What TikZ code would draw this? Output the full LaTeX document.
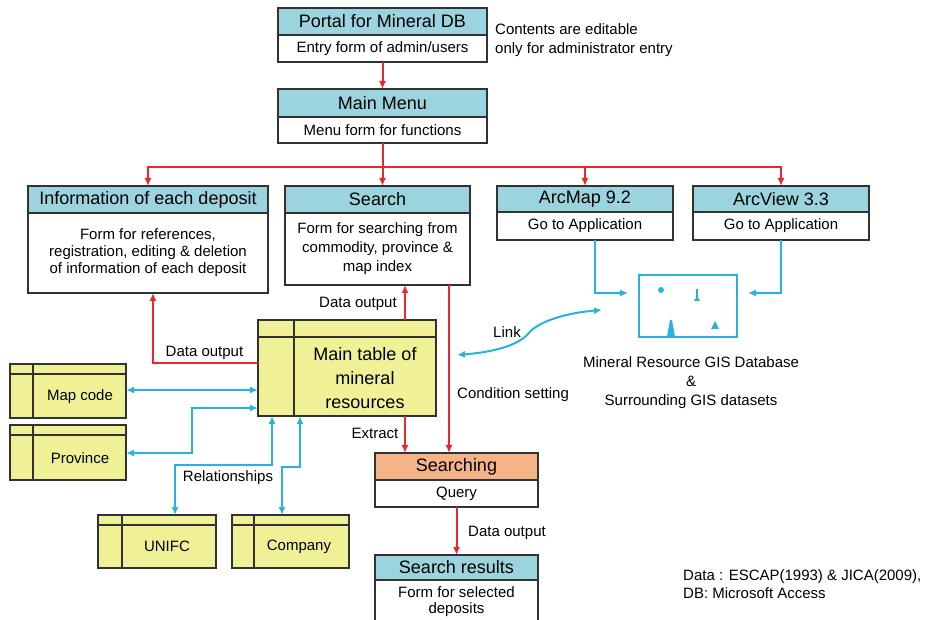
\documentclass[tikz,border=0pt]{standalone}
\usepackage{fontspec}
\setmainfont{Liberation Sans}
\usetikzlibrary{arrows.meta,fit}
\definecolor{hdrblue}{RGB}{155,212,222}
\definecolor{tabyellow}{RGB}{240,240,150}
\definecolor{salmon}{RGB}{245,180,135}
\definecolor{redc}{RGB}{232,40,45}
\definecolor{bluec}{RGB}{40,178,222}
\definecolor{boxgray}{RGB}{50,50,50}
\newcommand{\fsbig}{\fontsize{18}{22}\selectfont}
\newcommand{\fsmid}{\fontsize{15}{18}\selectfont}
\begin{document}
\begin{tikzpicture}[x=1pt,y=-1pt,
  hdr/.style n args={2}{draw=boxgray, line width=2.2pt, fill=hdrblue, minimum width=#1, minimum height=#2, inner sep=0pt, outer sep=0pt, font=\fsbig},
  hdrs/.style n args={2}{hdr={#1}{#2}, fill=salmon},
  bodybox/.style n args={2}{draw=boxgray, line width=2.2pt, fill=white, minimum width=#1, minimum height=#2, inner sep=0pt, outer sep=0pt, font=\fsmid, align=center},
  tab/.style={draw=boxgray, line width=2.2pt, fill=tabyellow, inner sep=0pt, outer sep=0pt},
  tabline/.style={draw=boxgray, line width=1.7pt},
  tabtxt/.style={font=\fsmid, inner sep=0pt},
  lbl/.style={font=\fsmid, inner sep=0pt},
  redln/.style={draw=redc, line width=2pt},
  redarr/.style={draw=redc, line width=2pt, -{Latex[length=8pt,width=7pt]}},
  bluearr/.style={draw=bluec, line width=2pt, -{Latex[length=8pt,width=7pt]}},
  bluedbl/.style={draw=bluec, line width=2pt, {Latex[length=8pt,width=7pt]}-{Latex[length=8pt,width=7pt]}}
]
\useasboundingbox (0,0) rectangle (930,620);
\fill[white] (0,0) rectangle (930,620);

% Portal
\node[bodybox={209pt}{27pt}] (portalB) at (382.5,48.5) {Entry form of admin/users};
\node[hdr={209pt}{27pt}] (portalH) at (382.5,21.5) {Portal for Mineral DB};
\node[lbl, anchor=west, align=left, font=\fontsize{15}{19}\selectfont] (note) at (495,40.5) {Contents are editable\\only for administrator entry};

% Main menu
\node[bodybox={209pt}{26pt}] (menuB) at (382.5,130) {Menu form for functions};
\node[hdr={209pt}{28pt}] (menuH) at (382.5,103) {Main Menu};

% Info
\node[bodybox={240pt}{80pt}, font=\fontsize{15}{17}\selectfont] (infoB) at (148,253) {Form for references,\\registration, editing \& deletion\\of information of each deposit};
\node[hdr={240pt}{27pt}] (infoH) at (148,199.5) {Information of each deposit};

% Search
\node[bodybox={185pt}{72pt}, font=\fontsize{15}{19}\selectfont] (searchB) at (377.5,249) {Form for searching from\\commodity, province \&\\map index};
\node[hdr={185pt}{27pt}] (searchH) at (377.5,199.5) {Search};

% ArcMap / ArcView
\node[bodybox={176pt}{28pt}] (amB) at (585,226) {Go to Application};
\node[hdr={176pt}{26pt}] (amH) at (585,199) {ArcMap 9.2};
\node[bodybox={176pt}{28pt}] (avB) at (781,226) {Go to Application};
\node[hdr={176pt}{26pt}] (avH) at (781,199) {ArcView 3.3};

% GIS database
\node[draw=bluec, line width=2pt, minimum width=98pt, minimum height=62pt, inner sep=0pt] (gis) at (688,306) {};
\fill[bluec] (661,290) circle (3);
\draw[bluec, line width=1.2pt] (697,289) -- (697,300);
\fill[bluec] (694,301) -- (697,296) -- (700,301) -- cycle;
\fill[bluec] (667,337) -- (670,320) -- (672,320) -- (675,337) -- cycle;
\fill[bluec] (711,329) -- (715,321) -- (719,329) -- cycle;
\node[lbl, align=center, font=\fontsize{15}{19}\selectfont] (gisT) at (691,383) {Mineral Resource GIS Database\\\&\\Surrounding GIS datasets};

% Main table
\node[tab, fit={(258,320) (436,416)}] (mainT) {};
\draw[tabline] ([xshift=36pt]mainT.north west) -- ([xshift=36pt]mainT.south west);
\draw[tabline] ([yshift=-17pt]mainT.north west) -- ([yshift=-17pt]mainT.north east);
\node[tabtxt, align=center, font=\fontsize{18}{24}\selectfont] (mainTT) at (365,378) {Main table of\\mineral\\resources};

% Small tables
\node[tab, fit={(10,364) (126,418)}] (mc) {};
\draw[tabline] ([xshift=23pt]mc.north west) -- ([xshift=23pt]mc.south west);
\draw[tabline] ([yshift=-10pt]mc.north west) -- ([yshift=-10pt]mc.north east);
\node[tabtxt] (mcT) at (80,396.5) {Map code};

\node[tab, fit={(10,425) (126,480)}] (pv) {};
\draw[tabline] ([xshift=23pt]pv.north west) -- ([xshift=23pt]pv.south west);
\draw[tabline] ([yshift=-10pt]pv.north west) -- ([yshift=-10pt]pv.north east);
\node[tabtxt] (pvT) at (80,458) {Province};

\node[tab, fit={(98,515) (216,568)}] (un) {};
\draw[tabline] ([xshift=24pt]un.north west) -- ([xshift=24pt]un.south west);
\draw[tabline] ([yshift=-10pt]un.north west) -- ([yshift=-10pt]un.north east);
\node[tabtxt] (unT) at (167,546.5) {UNIFC};

\node[tab, fit={(232,515) (349,568)}] (co) {};
\draw[tabline] ([xshift=22pt]co.north west) -- ([xshift=22pt]co.south west);
\draw[tabline] ([yshift=-10pt]co.north west) -- ([yshift=-10pt]co.north east);
\node[tabtxt] (coT) at (299,546.5) {Company};

% Searching & results
\node[bodybox={163pt}{27pt}] (sgB) at (456.5,493.5) {Query};
\node[hdrs={163pt}{27pt}] (sgH) at (456.5,466.5) {Searching};
\node[bodybox={163pt}{44pt}, font=\fontsize{15}{16}\selectfont] (resB) at (456.5,602) {Form for selected\\deposits};
\node[hdr={163pt}{25pt}] (resH) at (456.5,567.5) {Search results};

% Red connectors
\coordinate (split) at (382.5,167);
\draw[redarr] (portalB.south) -- (menuH.north);
\draw[redln] (menuB.south) -- (split);
\draw[redarr] (split) -| (infoH.north);
\draw[redarr] (split) -| (amH.north);
\draw[redarr] (split) -| (avH.north);
\draw[redarr] (split) -- (searchH.north -| split);
\draw[redarr] (mainT.north -| 405,0) -- (searchB.south -| 405,0);
\draw[redarr] (searchB.south -| 449,0) -- (sgH.north -| 449,0);
\draw[redarr] (mainT.south -| 405,0) -- (sgH.north -| 405,0);
\draw[redarr] (mainT.west |- 0,363) -| (infoB.south -| 153,0);
\draw[redarr] (sgB.south) -- (resH.north);

% Blue connectors
\draw[bluedbl] (mc.east |- 0,390) -- (mainT.west |- 0,390);
\draw[bluedbl] (pv.east |- 0,453) -| (192,430) |- (mainT.west |- 0,408);
\draw[bluedbl] (un.north -| 175,0) |- (272,465) -- (mainT.south -| 272,0);
\draw[bluedbl] (co.north -| 282,0) |- (300,467) -- (mainT.south -| 300,0);
\draw[bluearr, shorten >=10pt] (amB.south -| 595,0) |- (gis.west |- 0,293);
\draw[bluearr, shorten >=10pt] (avB.south) |- (gis.east |- 0,293);
\coordinate (linkL) at (457,355);
\coordinate (linkR) at (602,310);
\draw[bluedbl] (linkL) .. controls (495,352) and (518,345) .. (528,334) .. controls (537,322) and (565,313) .. (linkR);

% Labels
\node[lbl] (do1) at (358,304) {Data output};
\node[lbl] (do2) at (204.5,353) {Data output};
\node[lbl] (lk) at (507,332) {Link};
\node[lbl, anchor=west] (cs) at (457,395) {Condition setting};
\node[lbl] (ex) at (375,433) {Extract};
\node[lbl] (rel) at (228,478) {Relationships};
\node[lbl] (do3) at (507,533) {Data output};
\node[lbl, anchor=west, align=left, font=\fontsize{15}{18}\selectfont] (credit) at (683,584) {Data : ESCAP(1993) \& JICA(2009),\\DB: Microsoft Access};
\end{tikzpicture}
\end{document}
